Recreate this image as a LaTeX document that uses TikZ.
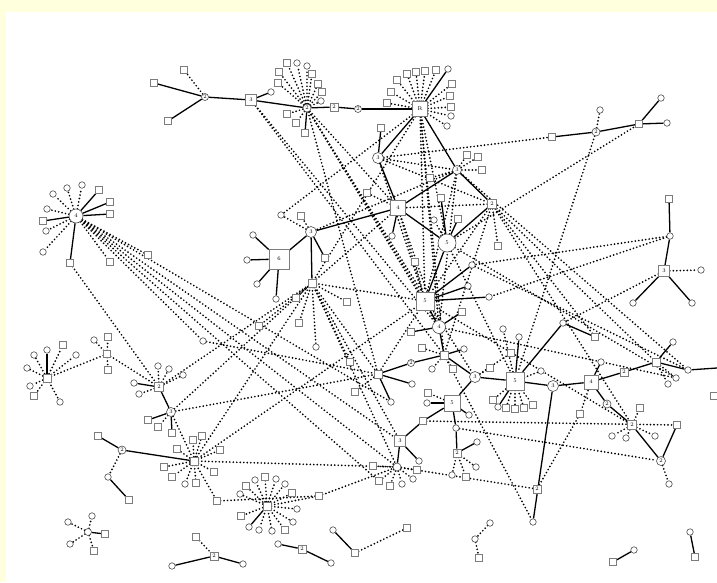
\documentclass[tikz,border=0pt]{standalone}
\pgfdeclarelayer{bgl}\pgfdeclarelayer{edgel}\pgfsetlayers{bgl,edgel,main}
\definecolor{bgy}{RGB}{255,255,221}
\definecolor{ndg}{RGB}{125,125,125}
\begin{document}
\begin{tikzpicture}[x=1pt,y=-1pt,
 sq/.style={rectangle,draw=ndg,fill=white,line width=0.6pt,minimum size=6.5pt,inner sep=0pt},
 ci/.style={circle,draw=ndg!60!black,fill=white,line width=0.6pt,minimum size=6.5pt,inner sep=0pt},
 lsq/.style={sq,minimum size=#1,font=\fontsize{5.5}{5.5}\selectfont},
 lci/.style={ci,minimum size=#1,font=\fontsize{5.5}{5.5}\selectfont},
 sol/.style={line width=1.3pt},
 dot/.style={line width=1.9pt,dash pattern=on 0pt off 3.5pt,line cap=round}]
\useasboundingbox (0,0) rectangle (717,582);
\begin{pgfonlayer}{bgl}
\fill[bgy] (0,0) rectangle (717,582);
\fill[white] (6,12) rectangle (717,582);
\end{pgfonlayer}
% ---- top-left cluster
\node[lci=7pt] (A) at (205,97) {2};
\node[sq] (A1) at (154,83) {}; \node[sq] (A2) at (168,121) {}; \node[sq] (A3) at (184,70) {};
\node[lsq=11pt] (T3) at (251,100) {3}; \node[ci] (T3a) at (271,92) {};
\node[lci=8pt] (B) at (307,108) {2};
\node[sq] (B1) at (287,63) {}; \node[ci] (B2) at (297,63) {}; \node[ci] (B3) at (307,66) {};
\node[sq] (B4) at (279,72) {}; \node[sq] (B5) at (312,74) {}; \node[sq] (B6) at (278,83) {};
\node[sq] (B7) at (318,84) {}; \node[sq] (B8) at (322,92) {}; \node[ci] (B9) at (321,101) {};
\node[sq] (B10) at (287,114) {}; \node[sq] (B11) at (296,123) {}; \node[sq] (B12) at (305,133) {};
\node[lsq=8pt] (S2a) at (334,107) {2}; \node[lci=7pt] (C2a) at (358,109) {2};
\node[lsq=15pt] (R) at (420,109) {R};
\node[ci] (R1) at (448,69) {}; \node[sq] (R2) at (407,74) {}; \node[sq] (R3) at (416,72) {};
\node[sq] (R4) at (425,71) {}; \node[sq] (R5) at (436,70) {}; \node[sq] (R6) at (397,80) {};
\node[sq] (R7) at (391,92) {}; \node[sq] (R8) at (387,103) {}; \node[sq] (R9) at (452,84) {};
\node[sq] (R10) at (450,96) {}; \node[sq] (R11) at (451,107) {}; \node[ci] (R12) at (451,116) {};
\node[ci] (R13) at (447,126) {};
\node[lci=11pt] (C3a) at (378,158) {3}; \node[sq] (Q1) at (381,128) {};
\node[lci=9pt] (H3) at (457,170) {3};
\node[sq] (H3a) at (467,155) {}; \node[sq] (H3b) at (478,157) {}; \node[sq] (H3c) at (482,170) {};
\node[sq] (H3d) at (430,178) {}; \node[sq] (X2) at (367,193) {};
\node[lsq=15pt] (F4) at (398,208) {4}; \node[ci] (F4a) at (392,236) {};
\node[lsq=9pt] (S2b) at (492,204) {2}; \node[sq] (S2b1) at (498,246) {};
\node[lci=18pt] (C5) at (447,243) {5};
\node[sq] (C5a) at (441,198) {}; \node[sq] (C5b) at (458,219) {}; \node[ci] (C5c) at (434,220) {};
\node[sq] (X3) at (415,262) {};
% ---- square 6 cluster
\node[lci=11pt] (C3b) at (311,232) {3}; \node[sq] (C3b1) at (325,258) {};
\node[ci] (C3b2) at (281,215) {}; \node[sq] (C3b3) at (301,216) {};
\node[lsq=20pt] (S6) at (279,259) {6};
\node[ci] (S6a) at (253,235) {}; \node[ci] (S6b) at (247,260) {}; \node[ci] (S6c) at (257,284) {};
\node[ci] (S6d) at (276,299) {};
\node[sq,minimum size=8pt] (Hs) at (312,283) {};
\node[sq] (Hs1) at (296,298) {}; \node[sq] (Hs2) at (347,302) {}; \node[sq] (Hs3) at (259,326) {};
\node[sq] (Hs4) at (299,323) {}; \node[ci] (Hs5) at (316,347) {}; \node[sq] (Hs6) at (350,362) {};
% ---- centre
\node[lsq=18pt] (S5) at (425,301) {5};
\node[ci] (S5a) at (472,265) {}; \node[ci] (S5x) at (468,286) {}; \node[ci] (S5y) at (489,297) {};
\node[lci=13pt] (C4) at (439,327) {4};
\node[sq] (C4a) at (411,332) {}; \node[sq] (C4b) at (462,312) {};
\node[sq,minimum size=8pt] (H2) at (444,355) {};
\node[ci] (H2a) at (464,349) {}; \node[ci] (H2b) at (432,369) {}; \node[sq] (H2c) at (453,369) {};
\node[sq] (H2d) at (422,348) {};
\node[lci=7pt] (C2b) at (411,363) {2};
\node[sq,minimum size=8pt] (S3a) at (378,374) {};
\node[ci] (S3a1) at (412,384) {}; \node[ci] (S3a2) at (391,402) {};
\node[sq] (X1) at (355,392) {};
\node[lci=11pt] (C3c) at (475,377) {3};
\node[sq] (C3ca) at (490,368) {}; \node[sq] (C3cb) at (511,353) {}; \node[ci] (X4) at (503,329) {};
\node[lsq=18pt] (P5) at (515,381) {5};
\node[ci] (P5a) at (519,337) {}; \node[ci] (P5b) at (498,407) {}; \node[sq] (P5c) at (493,400) {};
\node[sq] (P5d) at (506,408) {}; \node[sq] (P5e) at (515,409) {}; \node[sq] (P5f) at (524,408) {};
\node[sq] (P5g) at (533,405) {}; \node[ci] (P5h) at (541,371) {};
\node[lsq=16pt] (Q5) at (452,403) {5};
\node[ci] (Q5a) at (427,403) {}; \node[ci] (Q5b) at (469,415) {}; \node[ci] (Q5c) at (456,428) {};
\node[sq] (Q5d) at (428,393) {}; \node[sq] (Q5e) at (423,421) {};
\node[lsq=8pt] (S2c) at (457,453) {2};
\node[ci] (S2c1) at (477,442) {}; \node[ci] (S2c2) at (452,475) {}; \node[sq] (S2c3) at (466,477) {};
\node[ci] (S2c4) at (476,467) {};
\node[lsq=11pt] (F3) at (400,441) {3}; \node[ci] (F3a) at (419,461) {};
\node[ci,minimum size=8pt] (H4) at (397,467) {};
\node[sq] (H4a) at (373,466) {}; \node[sq] (H4b) at (379,481) {}; \node[sq] (H4c) at (390,486) {};
\node[ci] (H4d) at (402,484) {}; \node[ci] (H4e) at (413,479) {}; \node[sq] (H4f) at (417,470) {};
% ---- bottom
\node[sq,minimum size=8pt] (H5) at (267,506) {};
\node[sq] (H5a) at (246,486) {}; \node[ci] (H5b) at (255,480) {}; \node[sq] (H5c) at (265,477) {};
\node[ci] (H5d) at (276,479) {}; \node[ci] (H5e) at (285,484) {}; \node[sq] (H5f) at (292,493) {};
\node[ci] (H5g) at (240,494) {}; \node[ci] (H5h) at (297,509) {}; \node[sq] (H5i) at (241,516) {};
\node[ci] (H5j) at (249,527) {}; \node[ci] (H5k) at (259,530) {}; \node[ci] (H5l) at (272,531) {};
\node[sq] (H5m) at (285,530) {}; \node[ci] (H5n) at (293,522) {};
\node[sq] (H5o) at (319,496) {};
\node[ci] (D1) at (278,544) {}; \node[lsq=8pt] (S2d) at (302,549) {2}; \node[ci] (D2) at (331,563) {};
\node[ci] (E1) at (333,530) {}; \node[sq] (E2) at (355,553) {}; \node[sq] (E3) at (407,528) {};
\node[ci] (G1) at (172,566) {}; \node[lsq=8pt] (S2e) at (214,556) {2}; \node[ci] (G2) at (243,564) {};
\node[sq] (G3) at (196,537) {};
\node[ci,minimum size=7pt] (L) at (88,532) {};
\node[ci] (L1) at (68,522) {}; \node[ci] (L2) at (92,516) {}; \node[sq] (L3) at (105,534) {};
\node[ci] (L4) at (70,544) {}; \node[sq] (L5) at (94,551) {};
% ---- left
\node[lci=8pt] (C2L) at (122,450) {2};
\node[sq] (C2La) at (98,436) {}; \node[ci] (C2Lb) at (108,477) {}; \node[sq] (C2Lc) at (129,500) {};
\node[sq,minimum size=8pt] (H6) at (194,461) {};
\node[sq] (H6a) at (177,449) {}; \node[sq] (H6b) at (193,440) {}; \node[sq] (H6c) at (202,436) {};
\node[sq] (H6d) at (220,450) {}; \node[sq] (H6e) at (164,467) {}; \node[sq] (H6f) at (172,477) {};
\node[ci] (H6g) at (185,484) {}; \node[sq] (H6h) at (196,483) {}; \node[sq] (H6i) at (214,472) {};
\node[sq] (H6j) at (217,501) {};
\node[lci=9pt] (C3L) at (171,412) {3};
\node[sq] (C3La) at (148,420) {}; \node[sq] (C3Lb) at (172,433) {}; \node[sq] (C3Lc) at (158,427) {};
\node[lsq=9pt] (S2L) at (159,387) {2};
\node[ci] (S2La) at (134,383) {}; \node[ci] (S2Lb) at (158,366) {}; \node[ci] (S2Lc) at (169,369) {};
\node[ci] (S2Ld) at (183,375) {}; \node[ci] (S2Le) at (139,394) {};
\node[sq,minimum size=8pt] (LH) at (47,378) {};
\node[ci] (LH1) at (27,368) {}; \node[ci] (LH2) at (34,355) {}; \node[ci] (LH3) at (47,350) {};
\node[sq] (LH4) at (63,345) {}; \node[ci] (LH5) at (76,355) {}; \node[ci] (LH6) at (30,386) {};
\node[sq] (LH7) at (34,396) {}; \node[ci] (LH8) at (60,402) {};
\node[sq] (M) at (107,354) {};
\node[sq] (M1) at (108,337) {}; \node[sq] (M2) at (108,370) {}; \node[ci] (M3) at (94,340) {};
\node[lci=14pt] (H4L) at (76,216) {4};
\node[sq] (K1) at (43,221) {}; \node[sq] (K2) at (110,202) {}; \node[sq] (K3) at (110,214) {};
\node[sq] (K4) at (99,190) {}; \node[sq] (K5) at (70,263) {}; \node[ci] (K6) at (53,194) {};
\node[ci] (K7) at (67,188) {}; \node[ci] (K8) at (82,185) {}; \node[ci] (K9) at (47,209) {};
\node[ci] (K10) at (46,231) {}; \node[ci] (K11) at (43,252) {}; \node[sq] (K12) at (148,255) {};
\node[sq] (K13) at (110,262) {}; \node[ci] (K14) at (203,341) {};
% ---- right
\node[sq] (U1) at (552,137) {}; \node[lci=8pt] (C2r) at (596,132) {2}; \node[sq] (U2) at (639,124) {};
\node[ci] (U3) at (661,98) {}; \node[ci] (U4) at (667,123) {}; \node[ci] (U5) at (600,110) {};
\node[sq] (V1) at (669,199) {}; \node[ci] (V2) at (670,236) {}; \node[lsq=11pt] (S3r) at (664,271) {3};
\node[ci] (V3) at (633,303) {}; \node[ci] (V4) at (692,303) {}; \node[ci] (V5) at (701,270) {};
\node[ci] (W1) at (563,323) {}; \node[sq] (W2) at (595,337) {};
\node[lci=11pt] (C3d) at (553,386) {3};
\node[lsq=14pt] (F4r) at (591,382) {4}; \node[ci] (F4ra) at (601,362) {};
\node[lsq=8pt] (S2r1) at (624,372) {2};
\node[sq,minimum size=8pt] (Sr) at (656,362) {};
\node[ci] (Sr1) at (673,342) {}; \node[ci] (Sr2) at (688,370) {}; \node[ci] (Sr3) at (676,378) {};
\node[ci] (Sr4) at (668,384) {};
\coordinate (edgeR) at (717,368);
\node[lci=8pt] (C2r2) at (607,404) {2};
\node[lsq=9pt] (S2r2) at (632,425) {2};
\node[sq] (S2r2a) at (640,408) {}; \node[ci] (S2r2b) at (612,436) {}; \node[ci] (S2r2c) at (626,438) {};
\node[ci] (S2r2d) at (655,436) {};
\node[lci=9pt] (C2r3) at (661,461) {2}; \node[sq] (Y1) at (677,425) {}; \node[ci] (Y2) at (669,484) {};
\node[ci] (Z1) at (533,522) {}; \node[lsq=8pt] (S2m) at (537,489) {2}; \node[sq] (Z2) at (580,414) {};
\node[ci] (BR1) at (490,523) {}; \node[ci] (BR2) at (475,539) {}; \node[sq] (BR3) at (479,558) {};
\node[sq] (BR4) at (613,562) {}; \node[ci] (BR5) at (634,550) {};
\node[ci] (BR6) at (690,532) {}; \node[sq] (BR7) at (695,557) {};
\node[sq] (BR8) at (714,396) {};
\begin{pgfonlayer}{edgel}
\foreach \a/\b in {A/A1,A/A2,A/T3,T3/T3a,T3/B,B/B12,B/S2a,S2a/C2a,C2a/R,R/R1,Q1/C3a,R/C3a,R/H3,
 C3a/F4,H3/F4,H3/S2b,S2b/C5,F4/C5,F4/C3b,F4/F4a,C5/C5a,C5/C5b,C5/S5,
 C3b/S6,C3b/C3b1,C3b/Hs,S6/S6a,S6/S6b,S6/S6c,S6/S6d,
 S5/S5a,S5/S5x,S5/S5y,S5/C4,C4/C4a,C4/C4b,C4/H2,H2/H2a,H2/C2b,C2b/S3a,H2/C3c,S3a/S3a1,S3a/S3a2,
 C3c/P5,C3c/Q5,Q5/Q5a,Q5/Q5b,Q5/Q5c,Q5c/S2c,S2c/S2c1,Q5/Q5e,Q5e/F3,F3/F3a,F3/H4,
 H5/H5j,D1/S2d,S2d/D2,E1/E2,G1/S2e,S2e/G2,L/L3,C2L/C2La,C2L/H6,C2Lb/C2Lc,
 C3L/S2L,C3L/C3La,C3L/C3Lb,S2L/S2La,LH/LH3,
 H4L/K1,H4L/K2,H4L/K3,H4L/K4,H4L/K5,
 U1/C2r,C2r/U2,U2/U3,U2/U4,V1/V2,V2/S3r,S3r/V3,S3r/V4,W1/W2,W1/P5,
 P5/P5a,P5/P5b,P5/C3d,C3d/F4r,F4r/F4ra,F4r/S2r1,S2r1/Sr,Sr/Sr1,Sr/Sr2,Sr2/edgeR,
 F4r/C2r2,C2r2/S2r2,S2r2/C2r3,C2r3/Y1,C3d/Z1,BR4/BR5,BR6/BR7}
 \draw[sol] (\a) -- (\b);
\foreach \a/\b in {A/A3,B/B1,B/B2,B/B3,B/B4,B/B5,B/B6,B/B7,B/B8,B/B9,B/B10,B/B11,
 R/R2,R/R3,R/R4,R/R5,R/R6,R/R7,R/R8,R/R9,R/R10,R/R11,R/R12,R/R13,
 H3/H3a,H3/H3b,H3/H3c,H3/H3d,F4/X2,C5/C5c,S2b/S2b1,S5/X3,C3b/C3b2,C3b/C3b3,
 Hs/Hs1,Hs/Hs2,Hs/Hs3,Hs/Hs4,Hs/Hs5,Hs/Hs6,
 H2/H2b,H2/H2c,H2/H2d,C3c/C3ca,C3c/C3cb,P5/X4,P5/P5c,P5/P5d,P5/P5e,P5/P5f,P5/P5g,P5/P5h,Q5/Q5d,
 S2c/S2c2,S2c/S2c3,S2c/S2c4,H4/H4a,H4/H4b,H4/H4c,H4/H4d,H4/H4e,H4/H4f,S3a/X1,
 H5/H5a,H5/H5b,H5/H5c,H5/H5d,H5/H5e,H5/H5f,H5/H5g,H5/H5h,H5/H5i,H5/H5k,H5/H5l,H5/H5m,H5/H5n,H5/H5o,
 E2/E3,G3/S2e,L/L1,L/L2,L/L4,L/L5,C2L/C2Lb,
 H6/H6a,H6/H6b,H6/H6c,H6/H6d,H6/H6e,H6/H6f,H6/H6g,H6/H6h,H6/H6i,H6/H6j,H6j/H5o,H5o/H4,
 C3L/C3Lc,C3L/H6,S2L/S2Lb,S2L/S2Lc,S2L/S2Ld,S2L/S2Le,
 LH/LH1,LH/LH2,LH/LH4,LH/LH5,LH/LH6,LH/LH7,LH/LH8,LH/M,M/M1,M/M2,M/M3,M/S2L,
 H4L/K6,H4L/K7,H4L/K8,H4L/K9,H4L/K10,H4L/K11,H4L/K12,H4L/K13,H4L/K14,K14/S3a,K5/S2L,
 H4L/F3,H4L/H4,H4L/S3a2,H4L/H4b,
 C2r/U5,S3r/V5,Sr/Sr3,Sr/Sr4,S2r2/S2r2a,S2r2/S2r2b,S2r2/S2r2c,S2r2/S2r2d,C2r3/Y2,
 BR1/BR2,BR2/BR3,
 T3/H2,T3/C4,B/S5,B/C4,B/C3c,B/S3a,B/F4,
 R/Hs,R/C3b2,R/S5,R/C4,R/C5,R/H2,
 C3a/H3,C3a/U1,C3a/S5,C3a/S2b,
 H3/S5,H3/C4,H3/Sr2,H3/C3b,
 S2b/S5,S2b/Sr,S2b/W2,S2b/H2,S2b/F4,S2b/S2r2,
 F4/Hs,F4/S5,F4/C4,
 C5/U2,C5/Sr3,C5/P5,C4/Sr3,
 S5/S2r2,S5/Hs,S5/S3a,
 Hs/S3a,Hs/F3,Hs/H4,Hs/H6,
 H6/S5,H6/H4,C3L/S3a,C3L/Hs,S2L/Hs,
 H4/S2m,Q5e/Y1,Q5c/C2r3,S2m/Z2,Z2/F4r,H2/Z1,
 C2r/P5,V2/S5a,V2/S5y,S3r/W1,S5a/Sr2}
 \draw[dot] (\a) -- (\b);
\end{pgfonlayer}
\end{tikzpicture}
\end{document}
